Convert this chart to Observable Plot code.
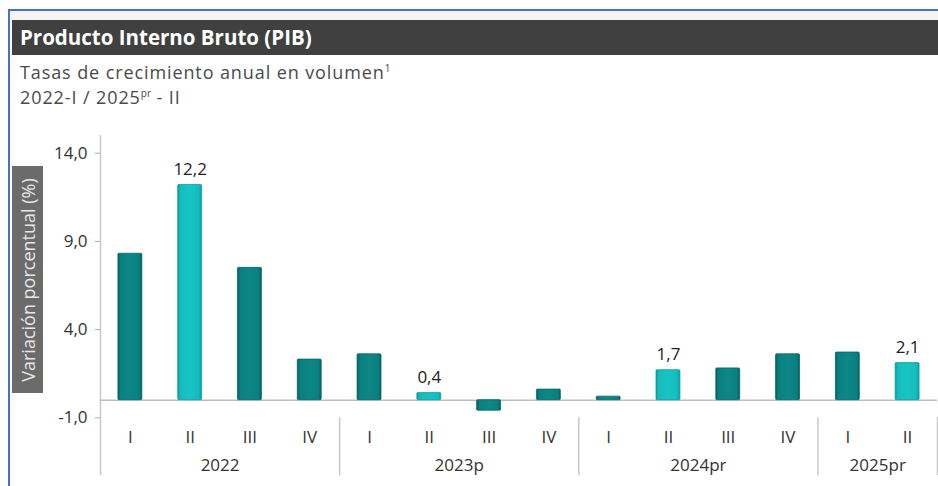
<!DOCTYPE html>
<html>
<head>
<meta charset="utf-8">
<script src="https://cdn.jsdelivr.net/npm/d3@7"></script>
<script src="https://cdn.jsdelivr.net/npm/@observablehq/plot@0.6"></script>
<style>
  html, body { margin: 0; padding: 0; background: #fff; }
  body { width: 938px; height: 486px; position: relative; overflow: hidden; font-family: "Open Sans", sans-serif; }
  #frame { position: absolute; left: 8px; top: 9px; width: 940px; height: 490px; border-left: 2px solid #4472c4; border-top: 2px solid #4472c4; background: #fff; }
  #topband { position: absolute; left: 10px; top: 11px; width: 930px; height: 9px; background: #f5f5f5; }
  #titlebar { position: absolute; left: 12px; top: 20px; width: 930px; height: 35px; background: #404040; color: #fff; font-weight: 700; font-size: 20.5px; line-height: 35px; padding-left: 8px; box-sizing: border-box; }
  .sub { position: absolute; left: 20px; font-size: 18px; letter-spacing: 0.9px; color: #4a4a4a; line-height: 25px; height: 25px; white-space: nowrap; }
  #sub1 { top: 60px; }
  #sub2 { top: 85px; }
  sup { font-size: 10px; line-height: 0; vertical-align: 7px; letter-spacing: 0; }
  #ylab { position: absolute; left: 12px; top: 166px; width: 31px; height: 227px; background: #6b6b6b; }
  #ylab span { position: absolute; left: 50%; top: 50%; transform: translate(-50%, -50%) rotate(-90deg); white-space: nowrap; color: #e6e6e6; font-size: 18px; }
  #chart { position: absolute; left: 0; top: 120px; }
</style>
</head>
<body>
<div id="frame"></div>
<div id="topband"></div>
<div id="titlebar">Producto Interno Bruto (PIB)</div>
<div class="sub" id="sub1">Tasas de crecimiento anual en volumen<sup>1</sup></div>
<div class="sub" id="sub2">2022-I / 2025<sup>pr</sup> - II</div>
<div id="chart"></div>
<div id="ylab"><span>Variación porcentual (%)</span></div>
<script>
const quarters = ["I","II","III","IV","I","II","III","IV","I","II","III","IV","I","II"];
const years = ["2022","2022","2022","2022","2023p","2023p","2023p","2023p","2024pr","2024pr","2024pr","2024pr","2025pr","2025pr"];
const values = [8.3, 12.2, 7.5, 2.3, 2.6, 0.4, -0.6, 0.6, 0.2, 1.7, 1.8, 2.6, 2.7, 2.1];
const yearLabels = ["2022","2023p","2024pr","2025pr"];
const yTicks = [-1, 4, 9, 14];

const data = values.map((v, i) => ({i, q: quarters[i], year: years[i], v, hi: quarters[i] === "II"}));
const groups = yearLabels.map(y => {
  const idx = data.filter(d => d.year === y).map(d => d.i);
  return {year: y, center: (d3.min(idx) + d3.max(idx)) / 2, start: d3.min(idx) - 0.5, end: d3.max(idx) + 0.5};
});
const fmt = d => d.toFixed(1).replace(".", ",");

const defs = () => {
  const s = d3.create("svg:defs");
  const mk = (id, edge, mid, light) => {
    const g = s.append("linearGradient").attr("id", id).attr("x1", 0).attr("x2", 1).attr("y1", 0).attr("y2", 0);
    g.append("stop").attr("offset", "0").attr("stop-color", edge);
    g.append("stop").attr("offset", "0.12").attr("stop-color", mid);
    g.append("stop").attr("offset", "0.5").attr("stop-color", light);
    g.append("stop").attr("offset", "0.88").attr("stop-color", mid);
    g.append("stop").attr("offset", "1").attr("stop-color", edge);
  };
  mk("gDark", "#05605f", "#0a8080", "#0c8786");
  mk("gLight", "#0c9c9c", "#14bdbd", "#18c4c4");
  return s.node();
};

const W = 0.2;
const plot = Plot.plot({
  width: 938,
  height: 366,
  marginLeft: 100,
  marginRight: 1,
  marginTop: 32.7,
  marginBottom: 68.7,
  style: {fontFamily: "Open Sans, sans-serif", fontSize: "17px", color: "#333", background: "transparent", overflow: "visible"},
  x: {domain: [-0.5, quarters.length - 0.5], axis: null},
  y: {domain: [-1, 14], axis: null},
  marks: [
    defs,
    Plot.axisY({ticks: yTicks, tickFormat: fmt, tickSize: 5, tickPadding: 8, stroke: "#aaa", fill: "#333", fontSize: 17, label: null}),
    Plot.ruleX([-0.5], {y1: -4.29, y2: 15.0, stroke: "#c8c8c8", strokeWidth: 1.5}),
    Plot.ruleX(groups.map(g => g.end), {y1: -1, y2: -4.29, stroke: "#c8c8c8", strokeWidth: 1.5}),
    Plot.ruleY([0], {stroke: "#bdbdbd", strokeWidth: 1.5}),
    Plot.rectY(data.filter(d => !d.hi), {x1: d => d.i - W, x2: d => d.i + W, y1: 0, y2: "v", fill: "url(#gDark)", stroke: "#066a6a", strokeWidth: 0.8, rx: 1}),
    Plot.rectY(data.filter(d => d.hi), {x1: d => d.i - W, x2: d => d.i + W, y1: 0, y2: "v", fill: "url(#gLight)", stroke: "#0b9e9e", strokeWidth: 0.8, rx: 1}),
    Plot.text(data.filter(d => d.hi), {x: "i", y: "v", text: d => fmt(d.v), lineAnchor: "bottom", dy: -10, fill: "#222", fontSize: 17}),
    Plot.text(data, {x: "i", y: -1, text: "q", dy: 20, fill: "#333", fontSize: 17}),
    Plot.text(groups, {x: "center", y: -1, text: "year", dy: 48, fill: "#333", fontSize: 17})
  ]
});
document.getElementById("chart").appendChild(plot);
</script>
</body>
</html>
